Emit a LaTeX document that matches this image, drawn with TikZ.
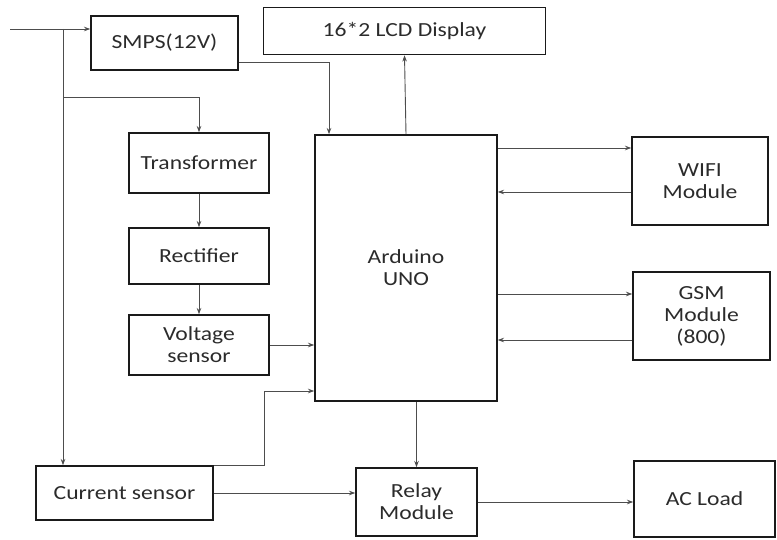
\documentclass[tikz,border=0pt]{standalone}
\usepackage{fontspec}
\setmainfont{Carlito}[FakeStretch=1.18]
\usepackage{xcolor}
\usepackage{tikz}
\usetikzlibrary{calc,arrows.meta,positioning}
\definecolor{boxc}{HTML}{1A1A1A}
\definecolor{linec}{HTML}{4D4D4D}
\definecolor{txtc}{HTML}{2B2B2B}
\tikzset{
  ar/.style={-{Stealth[length=2.2mm,width=1.6mm]},line width=0.9pt,linec},
  ln/.style={line width=0.9pt,linec},
  blk/.style={rectangle,draw=boxc,line width=1.6pt,align=center,inner sep=0pt,text=txtc,
    font=\fontsize{20}{22}\selectfont}
}
\begin{document}
\begin{tikzpicture}[x=1pt,y=-1pt]
\useasboundingbox (0,0) rectangle (777,540);
% blocks
\node[blk,minimum width=147pt,minimum height=54pt] (smps) at (164.5,43) {SMPS(12V)};
\node[blk,minimum width=282pt,minimum height=47pt] (lcd) at (404.5,31) {16*2 LCD Display};
\node[blk,minimum width=140pt,minimum height=60pt] (trans) at (199,163) {Transformer};
\node[blk,minimum width=140pt,minimum height=56pt] (rect) at (199,256) {Rectifier};
\node[blk,minimum width=140pt,minimum height=60pt] (volt) at (199,345) {Voltage\\sensor};
\node[blk,minimum width=182pt,minimum height=266pt] (ard) at (406,268) {Arduino\\UNO};
\node[blk,minimum width=136pt,minimum height=88pt] (wifi) at (700,181) {WIFI\\Module};
\node[blk,minimum width=137pt,minimum height=88pt] (gsm) at (701.5,316) {GSM\\Module\\(800)};
\node[blk,minimum width=177pt,minimum height=54pt] (cur) at (124.5,493) {Current sensor};
\node[blk,minimum width=121pt,minimum height=68pt] (relay) at (416.5,502) {Relay\\Module};
\node[blk,minimum width=141pt,minimum height=76pt] (acl) at (704.5,499) {AC Load};
% supply side
\coordinate (in) at (10,29);
\coordinate (j1) at (63,29);
\coordinate (j2) at (63,97);
\coordinate (k) at (264,391);
\draw[ar] (in) -- (in -| smps.west);
\draw[ar] (j1) -- (j1 |- cur.north);
\draw[ar] (j2) -| (trans.north);
\draw[ar] ([yshift=-19pt]smps.east) -| ([xshift=-77pt]ard.north);
\draw[ar] (trans) -- (rect);
\draw[ar] (rect) -- (volt);
\draw[ar] (volt) -- (volt -| ard.west);
\draw[ar] (cur.north east) -| (k) -- (k -| ard.west);
\draw[ar] (cur) -- (cur -| relay.west);
% controller outputs
\draw[ar] (ard.north) -- (lcd.south);
\draw[ar] (ard.south -| relay) -- (relay.north);
\draw[ar] (relay) -- (relay -| acl.west);
% modules
\coordinate (w1) at ([yshift=33pt]wifi.west);
\coordinate (w2) at ([yshift=-11pt]wifi.west);
\coordinate (g1) at ([yshift=22pt]gsm.west);
\coordinate (g2) at ([yshift=-24pt]gsm.west);
\draw[ar] (w1 -| ard.east) -- (w1);
\draw[ar] (w2) -- (w2 -| ard.east);
\draw[ar] (g1 -| ard.east) -- (g1);
\draw[ar] (g2) -- (g2 -| ard.east);
\end{tikzpicture}
\end{document}
